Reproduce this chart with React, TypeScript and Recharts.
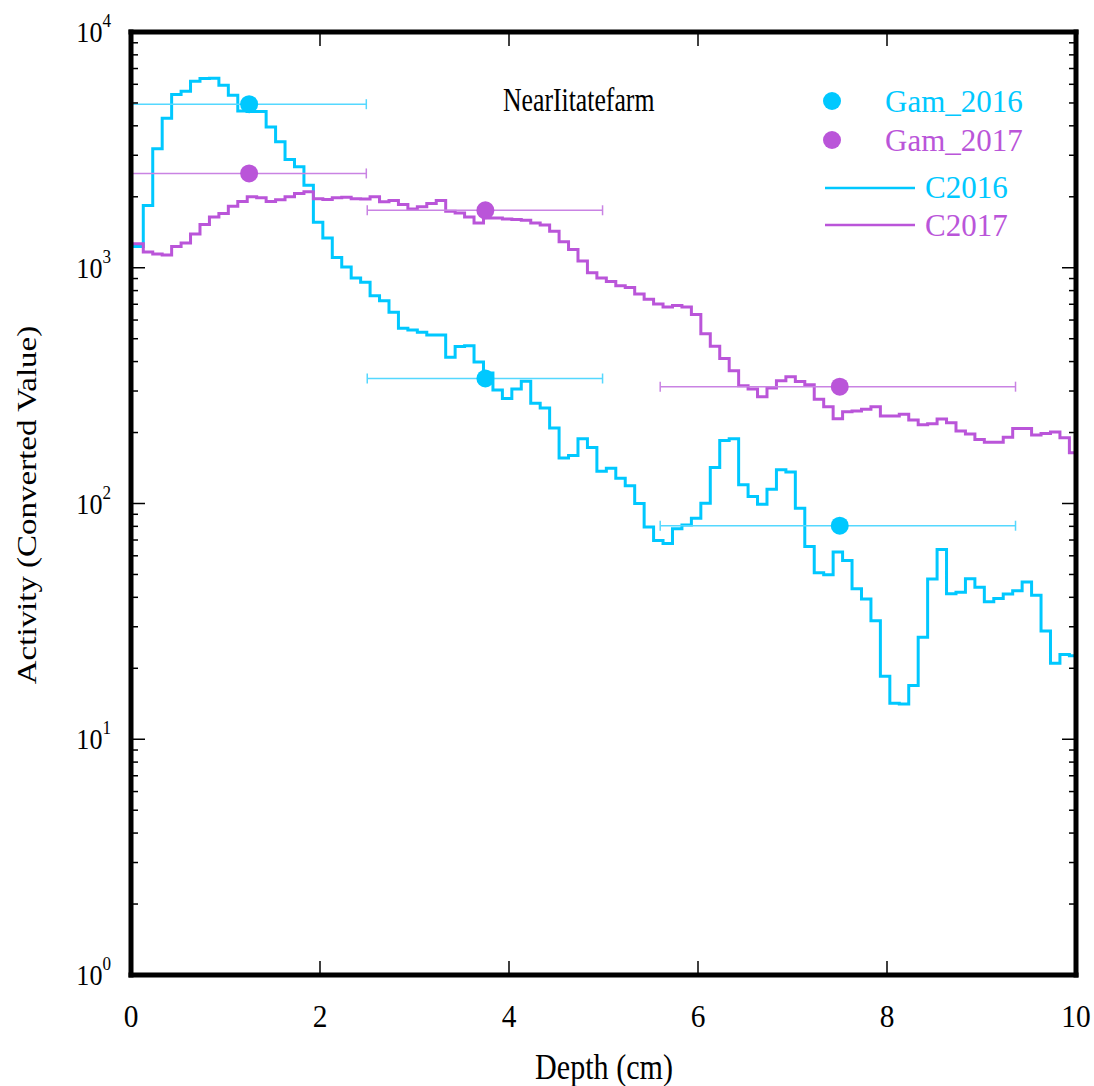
import React from "react";
import { ComposedChart, Line, Scatter, XAxis, YAxis, ErrorBar } from "recharts";

// activity per 0.1 cm depth bin
const c2016 = [
  1232, 1835, 3201, 4305, 5430, 5610, 6186, 6353, 6373, 5949,
  5393, 4627, 4600, 4600, 3954, 3426, 2881, 2683, 2240, 1559,
  1338, 1106, 1007, 904, 869, 760, 724, 648, 554, 545,
  533, 519, 519, 417, 463, 467, 398, 358, 303, 279,
  306, 330, 266, 254, 209, 156, 160, 188, 173, 137,
  141, 128, 119, 100, 79.5, 69.7, 67.7, 78.2, 81.1, 86.6,
  100.3, 142, 185, 188, 120, 107, 99.3, 115, 139, 136,
  95.5, 65.7, 50.8, 49.9, 62.2, 57.3, 43.5, 39.3, 31.8, 18.5,
  14.2, 14.1, 16.9, 27.1, 47.8, 63.8, 41.4, 42.0, 48.0, 44.1,
  38.3, 39.5, 41.3, 42.6, 46.4, 40.8, 28.8, 21.0, 22.9, 22.6,
];
const c2017 = [
  1265, 1166, 1144, 1132, 1232, 1274, 1391, 1524, 1643, 1697,
  1823, 1909, 2000, 1980, 1909, 1942, 2000, 2065, 2099, 1960,
  1947, 1980, 1991, 1960, 1955, 2000, 1903, 1928, 1854, 1777,
  1813, 1873, 1928, 1736, 1709, 1643, 1550, 1627, 1627, 1611,
  1601, 1590, 1550, 1520, 1427, 1290, 1196, 1068, 952, 905,
  875, 838, 825, 774, 735, 701, 681, 692, 681, 633,
  525, 464, 412, 366, 316, 306, 284, 309, 332, 345,
  329, 319, 277, 257, 229, 245, 247, 251, 257, 235,
  235, 239, 226, 216, 218, 228, 220, 203, 197, 187,
  182, 182, 191, 208, 208, 195, 198, 201, 190, 164,
];

const gamDepth = [1.25, 3.75, 7.5];
const gam2016 = [4940, 339, 80.5];
const gam2017 = [2512, 1753, 313];
const gamErrLow = [1.25, 1.25, 1.9];
const gamErrHigh = [1.24, 1.24, 1.86];

const xTicks = [0, 2, 4, 6, 8, 10];
const yMajor = [1, 10, 100, 1000, 10000];
const yMinorSteps = [2, 3, 4, 5, 6, 7, 8, 9];

const CYAN = "#00C8FF";
const PURPLE = "#BA55D9";
const FONT = '"Liberation Serif", "Times New Roman", serif';

// bin left edges, first bin clipped at the surface
const binEdges = c2016.map((_, i) => (i === 0 ? 0 : 0.03 + 0.1 * i));
const profile = binEdges.map((d, i) => ({ depth: d, c2016: c2016[i], c2017: c2017[i] }));
profile.push({ depth: 10, c2016: c2016[c2016.length - 1], c2017: c2017[c2017.length - 1] });

const gamData2016 = gamDepth.map((d, i) => ({ depth: d, value: gam2016[i], err: [gamErrLow[i], gamErrHigh[i]] }));
const gamData2017 = gamDepth.map((d, i) => ({ depth: d, value: gam2017[i], err: [gamErrLow[i], gamErrHigh[i]] }));

const yTicks = [
  ...yMajor,
  ...yMajor.slice(0, -1).flatMap((m) => yMinorSteps.map((s) => s * m)),
].sort((a, b) => a - b);

const isMajor = (v: number) => Math.abs(Math.log10(v) - Math.round(Math.log10(v))) < 1e-9;

const frame = { stroke: "#000", strokeWidth: 5, strokeLinecap: "square" as const };

const LeftTick = ({ x, y, payload }: any) => {
  const v = payload.value;
  const major = isMajor(v);
  return (
    <g>
      <line x1={x} x2={x + (major ? 14 : 7)} y1={y} y2={y} stroke="#000" strokeWidth={1.5} />
      {major && (
        <text
          transform={`translate(${x - 20} ${y + 10}) scale(0.9 1)`}
          textAnchor="end"
          fontFamily={FONT}
          fontSize={29}
          fill="#000"
        >
          10
          <tspan dy={-15} fontSize={19}>{Math.round(Math.log10(v))}</tspan>
        </text>
      )}
    </g>
  );
};

const RightTick = ({ x, y, payload }: any) => {
  const major = isMajor(payload.value);
  return <line x1={x} x2={x - (major ? 14 : 7)} y1={y} y2={y} stroke="#000" strokeWidth={1.5} />;
};

const BottomTick = ({ x, y, payload }: any) => (
  <g>
    <line x1={x} x2={x} y1={y} y2={y - 14} stroke="#000" strokeWidth={1.5} />
    <text
      transform={`translate(${x} ${y + 52}) scale(0.92 1)`}
      textAnchor="middle"
      fontFamily={FONT}
      fontSize={32}
      fill="#000"
    >
      {payload.value}
    </text>
  </g>
);

const TopTick = ({ x, y }: any) => (
  <line x1={x} x2={x} y1={y} y2={y + 14} stroke="#000" strokeWidth={1.5} />
);

const Dot = (color: string) => (p: any) => <circle cx={p.cx} cy={p.cy} r={9} fill={color} />;

export default function App() {
  return (
    <div style={{ position: "absolute", left: 0, top: 0, width: 1094, height: 1086, background: "#fff" }}>
      <ComposedChart width={1094} height={1086} margin={{ top: 31, right: 17, bottom: 0, left: 0 }}>
        <XAxis
          xAxisId="bottom"
          dataKey="depth"
          type="number"
          domain={[0, 10]}
          ticks={xTicks}
          allowDataOverflow
          height={111}
          tickSize={0}
          tickMargin={0}
          tickLine={false}
          tick={<BottomTick />}
          axisLine={frame}
        />
        <XAxis
          xAxisId="top"
          orientation="top"
          dataKey="depth"
          type="number"
          domain={[0, 10]}
          ticks={[2, 4, 6, 8]}
          allowDataOverflow
          height={1}
          tickSize={0}
          tickMargin={0}
          tickLine={false}
          tick={<TopTick />}
          axisLine={frame}
        />
        <YAxis
          yAxisId="left"
          scale="log"
          domain={[1, 10000]}
          ticks={yTicks}
          allowDataOverflow
          width={131}
          tickSize={0}
          tickMargin={0}
          tickLine={false}
          tick={<LeftTick />}
          axisLine={frame}
          interval={0}
        />
        <YAxis
          yAxisId="right"
          orientation="right"
          scale="log"
          domain={[1, 10000]}
          ticks={yTicks}
          allowDataOverflow
          width={1}
          tickSize={0}
          tickMargin={0}
          tickLine={false}
          tick={<RightTick />}
          axisLine={frame}
          interval={0}
        />
        <Line
          data={profile}
          xAxisId="bottom"
          yAxisId="left"
          dataKey="c2016"
          type="stepAfter"
          stroke={CYAN}
          strokeWidth={3}
          dot={false}
          isAnimationActive={false}
        />
        <Line
          data={profile}
          xAxisId="bottom"
          yAxisId="left"
          dataKey="c2017"
          type="stepAfter"
          stroke={PURPLE}
          strokeWidth={3}
          dot={false}
          isAnimationActive={false}
        />
        <Scatter
          data={gamData2016}
          xAxisId="bottom"
          yAxisId="left"
          dataKey="value"
          fill={CYAN}
          shape={Dot(CYAN)}
          isAnimationActive={false}
        >
          <ErrorBar dataKey="err" direction="x" width={5} stroke="#55D8FF" strokeWidth={1.5} />
        </Scatter>
        <Scatter
          data={gamData2017}
          xAxisId="bottom"
          yAxisId="left"
          dataKey="value"
          fill={PURPLE}
          shape={Dot(PURPLE)}
          isAnimationActive={false}
        >
          <ErrorBar dataKey="err" direction="x" width={5} stroke="#C983E3" strokeWidth={1.5} />
        </Scatter>
      </ComposedChart>
      <svg
        width={1094}
        height={1086}
        style={{ position: "absolute", left: 0, top: 0, pointerEvents: "none" }}
        fontFamily={FONT}
      >
        <text transform="translate(503 111) scale(0.78 1)" fontSize={33} fill="#000">NearIitatefarm</text>
        <circle cx={832} cy={101} r={9} fill={CYAN} />
        <text x={885} y={112} fontSize={31} fill={CYAN}>Gam_2016</text>
        <circle cx={832} cy={140} r={9} fill={PURPLE} />
        <text x={885} y={151} fontSize={31} fill={PURPLE}>Gam_2017</text>
        <line x1={825} x2={915} y1={188} y2={188} stroke={CYAN} strokeWidth={2.5} />
        <text x={925} y={198} fontSize={31} fill={CYAN}>C2016</text>
        <line x1={825} x2={915} y1={225} y2={225} stroke={PURPLE} strokeWidth={2.5} />
        <text x={925} y={236} fontSize={31} fill={PURPLE}>C2017</text>
        <text transform="translate(604 1079) scale(0.86 1)" fontSize={35} textAnchor="middle" fill="#000">
          Depth (cm)
        </text>
        <text
          x={0}
          y={0}
          fontSize={33}
          textAnchor="middle"
          fill="#000"
          transform="translate(36 505) scale(0.85 1) rotate(-90)"
        >
          Activity (Converted Value)
        </text>
      </svg>
    </div>
  );
}
